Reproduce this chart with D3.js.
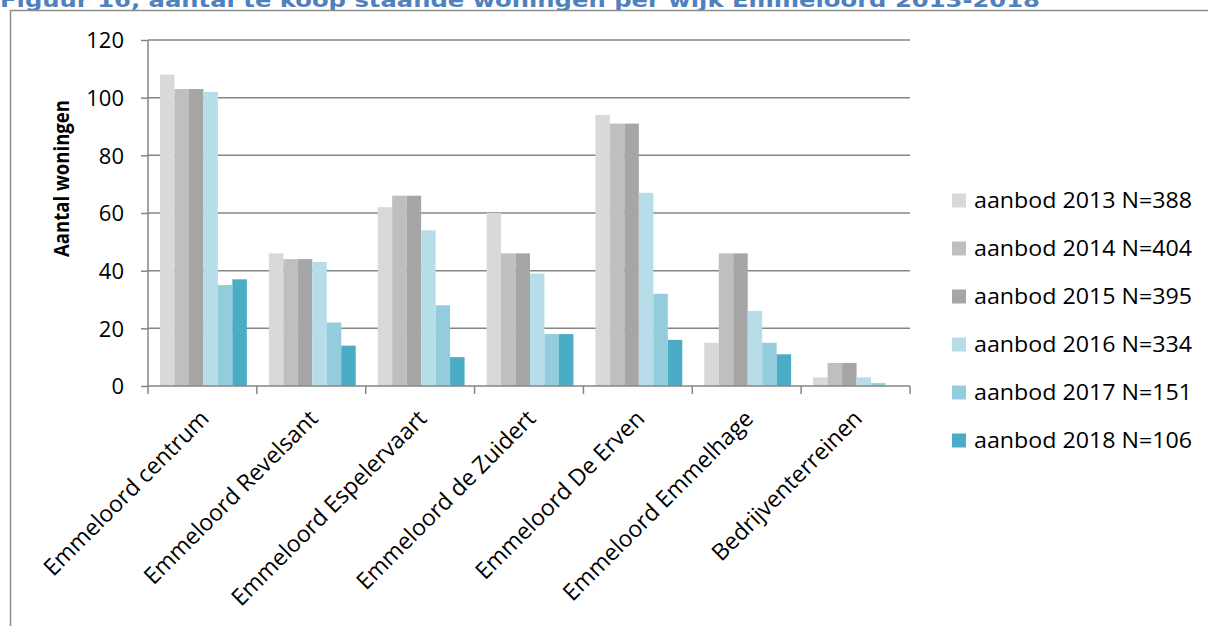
<!DOCTYPE html>
<html><head><meta charset="utf-8">
<script src="https://cdn.jsdelivr.net/npm/d3@7"></script>
<style>body{margin:0;background:#fff}svg{display:block}</style>
</head><body>
<svg id="c" width="1208" height="626"></svg>
<script>
const categories = ["Emmeloord centrum","Emmeloord Revelsant","Emmeloord Espelervaart","Emmeloord de Zuidert","Emmeloord De Erven","Emmeloord Emmelhage","Bedrijventerreinen"];
const seriesNames = ["aanbod 2013 N=388","aanbod 2014 N=404","aanbod 2015 N=395","aanbod 2016 N=334","aanbod 2017 N=151","aanbod 2018 N=106"];
const s2013 = [108,46,62,60,94,15,3];
const s2014 = [103,44,66,46,91,46,8];
const s2015 = [103,44,66,46,91,46,8];
const s2016 = [102,43,54,39,67,26,3];
const s2017 = [35,22,28,18,32,15,1];
const s2018 = [37,14,10,18,16,11,0];
const yTicks = [0,20,40,60,80,100,120];
const colors = ["#d9d9d9","#bfbfbf","#a6a6a6","#b7dde8","#93cddd","#4bacc6"];
const series = [s2013,s2014,s2015,s2016,s2017,s2018];

const svg = d3.select("#c");
const L=148, R=910, T=40, B=386;
const grid="#868686";

// title (cropped at top, as in the reference)
svg.append("text").attr("x",0).attr("y",7)
  .attr("font-family","DejaVu Sans").attr("font-weight","bold").attr("font-size",20)
  .attr("fill","#4f81bd").attr("textLength",1040).attr("lengthAdjust","spacingAndGlyphs")
  .text("Figuur 16, aantal te koop staande woningen per wijk Emmeloord 2013-2018");

// frame
svg.append("path").attr("d","M1210,10.5 H10.5 V630").attr("fill","none").attr("stroke","#8c8c8c").attr("stroke-width",1.5);

const x0 = d3.scaleBand().domain(categories).range([L,R]).padding(0);
const x1 = d3.scaleBand().domain(d3.range(6)).range([12, x0.bandwidth()-10]).padding(0);
const y = d3.scaleLinear().domain([0,120]).range([B,T]);

// gridlines
svg.append("g").selectAll("line").data(yTicks.filter(d=>d>0)).join("line")
  .attr("x1",L).attr("x2",R).attr("y1",d=>y(d)).attr("y2",d=>y(d))
  .attr("stroke",grid).attr("stroke-width",1.5);

// bars
const g = svg.append("g");
categories.forEach((c,ci)=>{
  series.forEach((s,si)=>{
    g.append("rect").attr("x",x0(c)+x1(si)).attr("width",x1.bandwidth())
      .attr("y",y(s[ci])).attr("height",B-y(s[ci])).attr("fill",colors[si]);
  });
});

// y axis
const ya = svg.append("g").attr("transform",`translate(${L},0)`)
  .call(d3.axisLeft(y).tickValues(yTicks).tickSize(7).tickPadding(17));
ya.select(".domain").attr("stroke",grid).attr("stroke-width",1.5).attr("d",`M0,${T}V${B}`);
ya.selectAll(".tick line").attr("stroke",grid).attr("stroke-width",1.5);
ya.selectAll(".tick text").attr("font-family","Open Sans").attr("font-size",22).attr("fill","#000").attr("dy","0.36em");

// x axis
const boundaries = categories.map(c=>x0(c)).concat([R]);
svg.append("line").attr("x1",L).attr("x2",R).attr("y1",B).attr("y2",B).attr("stroke",grid).attr("stroke-width",1.5);
svg.append("g").selectAll("line").data(boundaries).join("line")
  .attr("x1",d=>d).attr("x2",d=>d).attr("y1",B).attr("y2",B+8).attr("stroke",grid).attr("stroke-width",1.5);
svg.append("g").selectAll("text").data(categories).join("text")
  .attr("transform",d=>`translate(${x0(d)+x0.bandwidth()/2+8},${B+34}) rotate(-45)`)
  .attr("text-anchor","end").attr("font-family","Open Sans").attr("font-size",23).attr("fill","#000")
  .text(d=>d);

// y title
svg.append("text").attr("transform",`translate(69,178.5) rotate(-90)`).attr("text-anchor","middle")
  .attr("font-family","Open Sans").attr("font-weight","bold").attr("font-size",22).attr("fill","#000")
  .attr("textLength",157).attr("lengthAdjust","spacingAndGlyphs")
  .text("Aantal woningen");

// legend
const lg = svg.append("g");
seriesNames.forEach((n,i)=>{
  const cy = 200.5 + i*48;
  lg.append("rect").attr("x",952).attr("y",cy-7).attr("width",14).attr("height",14).attr("fill",colors[i]);
  lg.append("text").attr("x",974).attr("y",cy).attr("dy","0.36em").attr("font-family","Open Sans").attr("font-size",22).attr("fill","#000")
    .attr("textLength",218).attr("lengthAdjust","spacingAndGlyphs").text(n);
});
</script>
</body></html>
